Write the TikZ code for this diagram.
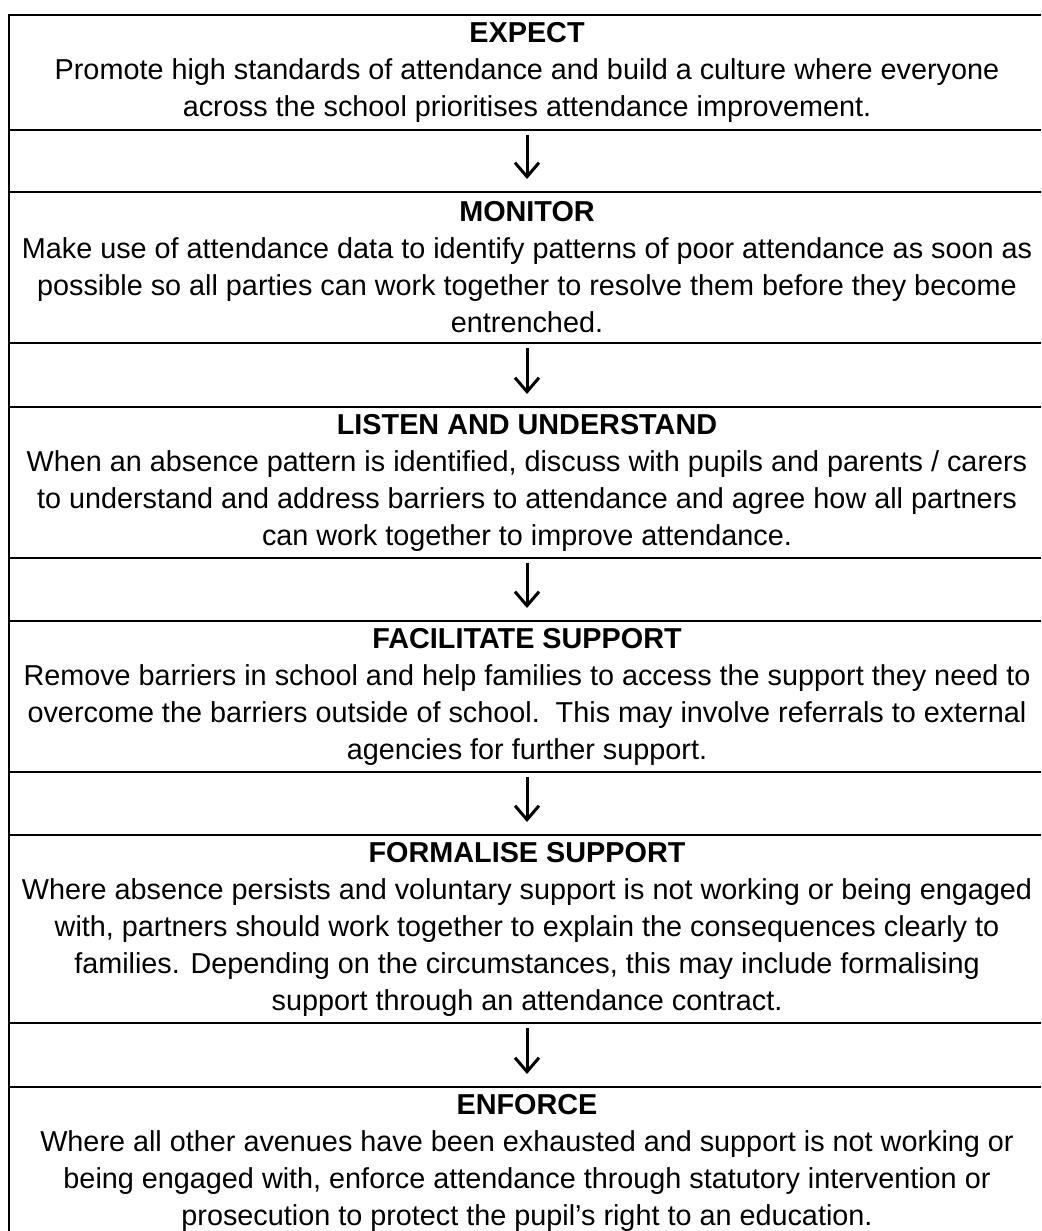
\documentclass[tikz,border=0pt]{standalone}
\usepackage{fontspec}
\setmainfont{Liberation Sans}
\usetikzlibrary{positioning,arrows.meta}

\begin{document}
\begin{tikzpicture}[
    x=1pt, y=1pt,
    stage/.style={draw, line width=2pt, minimum width=1036pt, align=center,
      inner sep=0pt, outer sep=0pt, font=\fontsize{28.8}{37}\selectfont},
    flow/.style={-{Straight Barb[length=14pt, width=24pt]}, line width=3pt,
      shorten <=5pt, shorten >=13pt}
  ]
  \useasboundingbox (0,0) rectangle (1041,-1231);
  \clip (0,0) rectangle (1041,-1231);

  % the six stages, one under the other
  \node[stage, minimum height=115pt, anchor=north west] (expect) at (9,-15)
    {\textbf{EXPECT}\\
     Promote high standards of attendance and build a culture where everyone\\
     across the school prioritises attendance improvement.};
  \node[stage, minimum height=151pt, below=62pt of expect] (monitor)
    {\textbf{MONITOR}\\
     Make use of attendance data to identify patterns of poor attendance as soon as\\
     possible so all parties can work together to resolve them before they become\\
     entrenched.};
  \node[stage, minimum height=151pt, below=64pt of monitor] (listen)
    {\textbf{LISTEN AND UNDERSTAND}\\
     When an absence pattern is identified, discuss with pupils and parents / carers\\
     to understand and address barriers to attendance and agree how all partners\\
     can work together to improve attendance.};
  \node[stage, minimum height=151pt, below=63pt of listen] (facilitate)
    {\textbf{FACILITATE SUPPORT}\\
     Remove barriers in school and help families to access the support they need to\\
     overcome the barriers outside of school.\ \ This may involve referrals to external\\
     agencies for further support.};
  \node[stage, minimum height=188pt, below=63pt of facilitate] (formalise)
    {\textbf{FORMALISE SUPPORT}\\
     Where absence persists and voluntary support is not working or being engaged\\
     with, partners should work together to explain the consequences clearly to\\
     families. Depending on the circumstances, this may include formalising\\
     support through an attendance contract.};
  \node[stage, minimum height=151pt, below=64pt of formalise] (enforce)
    {\textbf{ENFORCE}\\
     Where all other avenues have been exhausted and support is not working or\\
     being engaged with, enforce attendance through statutory intervention or\\
     prosecution to protect the pupil’s right to an education.};

  % outer sides of the table
  \draw[line width=2pt] (expect.north west) -- (enforce.south west);
  \draw[line width=2pt] (expect.north east) -- (enforce.south east);

  % arrows between the stages
  \draw[flow] (expect) -- (monitor);
  \draw[flow] (monitor) -- (listen);
  \draw[flow] (listen) -- (facilitate);
  \draw[flow] (facilitate) -- (formalise);
  \draw[flow] (formalise) -- (enforce);
\end{tikzpicture}
\end{document}
